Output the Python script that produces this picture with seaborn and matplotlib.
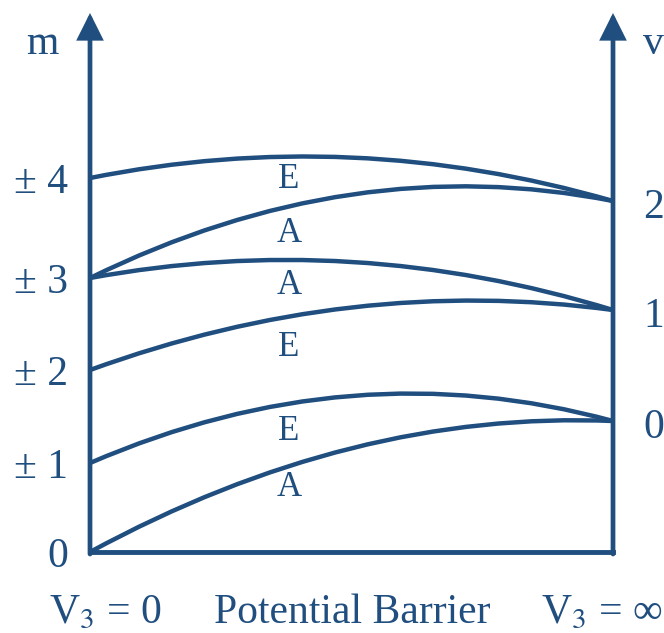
import matplotlib
matplotlib.use("Agg")
import matplotlib.pyplot as plt
from matplotlib.path import Path
from matplotlib.patches import PathPatch, FancyArrowPatch
import seaborn as sns
import pandas as pd

# Energy levels (arbitrary units) on the free-rotor side (V3 = 0)
m_labels = ["0", "± 1", "± 2", "± 3", "± 4"]
m_levels = [0.0, 0.89, 1.82, 2.74, 3.74]

# Energy levels on the harmonic-oscillator side (V3 = ∞)
v_labels = ["0", "1", "2"]
v_levels = [1.31, 2.42, 3.51]

# Correlation lines: start level index (m), end level index (v), curve bulge height, symmetry label
link_m = [4, 3, 3, 2, 1, 0]
link_v = [2, 2, 1, 1, 0, 0]
link_ctrl = [4.265, 4.024, 3.222, 2.771, 2.022, 1.42]
link_sym = ["E", "A", "A", "E", "E", "A"]
sym_label_y = [3.72, 3.19, 2.67, 2.05, 1.20, 0.65]

COLOR = "#1f4e7f"
sns.set_theme(style="white")
plt.rcParams["font.family"] = ["Liberation Serif", "DejaVu Serif"]
plt.rcParams["mathtext.fontset"] = "stix"

fig = plt.figure(figsize=(6.64, 6.33), dpi=100)
ax = fig.add_axes([0, 0, 1, 1])
ax.set_xlim(-90 / 523, (664 - 90) / 523)
ax.set_ylim(-0.81, 5.52)
ax.axis("off")

# Baseline between the two limiting cases
base = pd.DataFrame({"x": [0.0, 1.0], "y": [0.0, 0.0]})
sns.lineplot(data=base, x="x", y="y", ax=ax, color=COLOR, lw=3.5,
             solid_capstyle="projecting")

# Vertical axes with arrow heads
top = 5.39
for xa in (0.0, 1.0):
    arr = FancyArrowPatch((xa, -0.02), (xa, top),
                          arrowstyle="-|>,head_length=1.0,head_width=0.5",
                          mutation_scale=14.4, lw=3.4, color=COLOR,
                          shrinkA=0, shrinkB=0, joinstyle="miter")
    ax.add_patch(arr)

# Correlation curves (quadratic Bézier between the two level sets)
for mi, vi, cy in zip(link_m, link_v, link_ctrl):
    y0 = m_levels[mi]
    y1 = v_levels[vi]
    path = Path([(0.0, y0), (0.5, cy), (1.0, y1)],
                [Path.MOVETO, Path.CURVE3, Path.CURVE3])
    ax.add_patch(PathPatch(path, fill=False, edgecolor=COLOR, lw=3.2,
                           capstyle="butt"))

# Symmetry labels
for s, ly in zip(link_sym, sym_label_y):
    ax.text(0.38, ly, s, ha="center", va="center", fontsize=25, color=COLOR)

# Level labels
for lab, lv in zip(m_labels, m_levels):
    ax.text(-0.042, lv - 0.05, lab, ha="right", va="center", fontsize=30,
            color=COLOR)
for lab, lv in zip(v_labels, v_levels):
    ax.text(1.058, lv - 0.07, lab, ha="left", va="center", fontsize=30,
            color=COLOR)

# Axis titles
ax.text(-0.092, (552 - 44) / 100, "m", ha="center", va="center", fontsize=30,
        color=COLOR)
ax.text(1.077, (552 - 44) / 100, "v", ha="center", va="center", fontsize=30,
        color=COLOR)

# Bottom captions
cap_y = (552 - 613) / 100
ax.text((105 - 90) / 523, cap_y, r"V$_3$ = 0", ha="center", va="center",
        fontsize=30, color=COLOR)
ax.text((352 - 90) / 523, cap_y, "Potential Barrier", ha="center", va="center",
        fontsize=30, color=COLOR)
ax.text((602 - 90) / 523, cap_y, r"V$_3$ = ∞", ha="center", va="center",
        fontsize=30, color=COLOR)

fig.savefig("out.png", dpi=100)
